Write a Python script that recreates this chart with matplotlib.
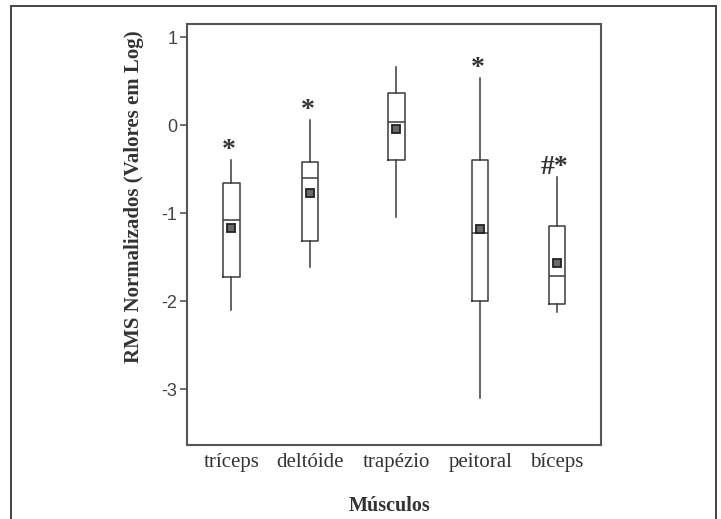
import matplotlib
matplotlib.use("Agg")
import matplotlib.pyplot as plt
from matplotlib.patches import Rectangle

# data (log-normalized RMS)
musculos = ["tríceps", "deltóide", "trapézio", "peitoral", "bíceps"]
posicoes = [1, 1.97, 3.03, 4.06, 5]
whis_hi = [-0.40, 0.06, 0.66, 0.53, -0.59]
q3 = [-0.66, -0.42, 0.36, -0.40, -1.15]
mediana = [-1.08, -0.60, 0.03, -1.23, -1.72]
media = [-1.17, -0.77, -0.045, -1.18, -1.57]
q1 = [-1.73, -1.32, -0.40, -2.00, -2.03]
whis_lo = [-2.10, -1.61, -1.04, -3.10, -2.12]
marcas = ["*", "*", "", "*", "#*"]

stats = []
for i in range(len(musculos)):
    stats.append(dict(label=musculos[i], med=mediana[i], q1=q1[i], q3=q3[i],
                      whislo=whis_lo[i], whishi=whis_hi[i], mean=media[i]))

cor = "#3a3a3a"
fig = plt.figure(figsize=(7.21, 5.19), dpi=100)
fig.patch.set_facecolor("white")
ax = fig.add_axes([0.2594, 0.1426, 0.5742, 0.8112])

ax.bxp(stats, positions=posicoes, widths=0.2, showmeans=True, showcaps=False,
       showfliers=False,
       boxprops=dict(color=cor, linewidth=1.1),
       whiskerprops=dict(color=cor, linewidth=1.1),
       medianprops=dict(color=cor, linewidth=1.1),
       meanprops=dict(marker="s", markersize=6, markerfacecolor="#6a6a6a",
                      markeredgecolor="#222222", markeredgewidth=1.3))

for p, y, m in zip(posicoes, whis_hi, marcas):
    if m:
        ax.text(p - 0.03, y + 0.11, m, ha="center", va="center", fontsize=20,
                family="Liberation Serif", fontweight="bold", color="#333333")

ax.set_xlim(0.454, 5.546)
ax.set_ylim(-3.636, 1.148)
ax.set_yticks([1, 0, -1, -2, -3])
ax.set_yticklabels(["1", "0", "-1", "-2", "-3"], family="Liberation Sans",
                   fontsize=13, color="#444444")
ax.set_xticks(posicoes)
ax.set_xticklabels(musculos, family="Liberation Serif", fontsize=15, color="#333333")
ax.tick_params(axis="y", length=5, width=1.2, color="#555555", pad=2)
ax.tick_params(axis="x", length=0, pad=6)
for s in ax.spines.values():
    s.set_color("#555555")
    s.set_linewidth(1.5)

ax.set_ylabel("RMS Normalizados (Valores em Log)", family="Liberation Serif",
              fontweight="bold", fontsize=15, color="#333333")
ax.yaxis.set_label_coords(-0.104, 0.59)
ax.set_xlabel("Músculos", family="Liberation Serif", fontweight="bold",
              fontsize=14.5, color="#333333")
ax.xaxis.set_label_coords(0.49, -0.12)

# outer frame
fig.patches.append(Rectangle((11 / 721, -0.02), 705 / 721, 1.02 - 6 / 519,
                             transform=fig.transFigure, fill=False,
                             edgecolor="#444444", linewidth=1.4))

fig.savefig("out.png", dpi=100)
